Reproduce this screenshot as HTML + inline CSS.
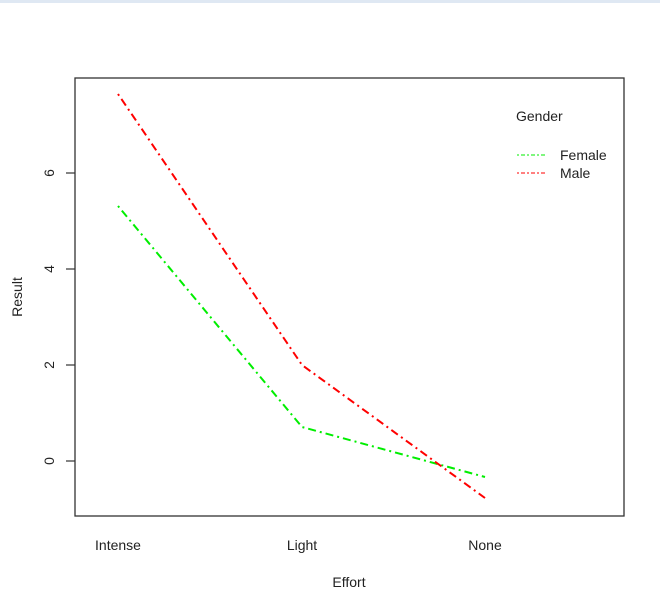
<!DOCTYPE html>
<html><head><style>body{margin:0;background:#fff}svg{display:block}</style></head><body>
<svg width="660" height="606" xmlns="http://www.w3.org/2000/svg" font-family="Liberation Sans, sans-serif" font-size="14" fill="#222">
<rect x="0" y="0" width="660" height="3" fill="#dfe8f3"/>
<rect x="75" y="78" width="549" height="438" fill="none" stroke="#333" stroke-width="1.3"/>
<g stroke="#333" stroke-width="1.2">
<line x1="66" y1="173" x2="75" y2="173"/><line x1="66" y1="269" x2="75" y2="269"/>
<line x1="66" y1="365" x2="75" y2="365"/><line x1="66" y1="461" x2="75" y2="461"/>
</g>
<g text-anchor="middle">
<text transform="translate(49,173) rotate(-90)" dy="5">6</text>
<text transform="translate(49,269) rotate(-90)" dy="5">4</text>
<text transform="translate(49,365) rotate(-90)" dy="5">2</text>
<text transform="translate(49,461) rotate(-90)" dy="5">0</text>
<text transform="translate(17,297) rotate(-90)" dy="5">Result</text>
<text x="118" y="550">Intense</text>
<text x="302" y="550">Light</text>
<text x="485" y="550">None</text>
<text x="349" y="587">Effort</text>
</g>
<g fill="none" stroke-width="2" stroke-dasharray="2 4 8 4">
<polyline points="118,206 302,427 485,477" stroke="#00ee00"/>
<polyline points="118,94 302,365 485,498" stroke="#ff0000"/>
</g>
<text x="516" y="121">Gender</text>
<g stroke-width="1" stroke-dasharray="2 2 4 2">
<line x1="517" y1="155" x2="547" y2="155" stroke="#00ee00"/>
<line x1="517" y1="173" x2="547" y2="173" stroke="#ff0000"/>
</g>
<text x="560" y="160">Female</text>
<text x="560" y="178">Male</text>
</svg>
</body></html>
